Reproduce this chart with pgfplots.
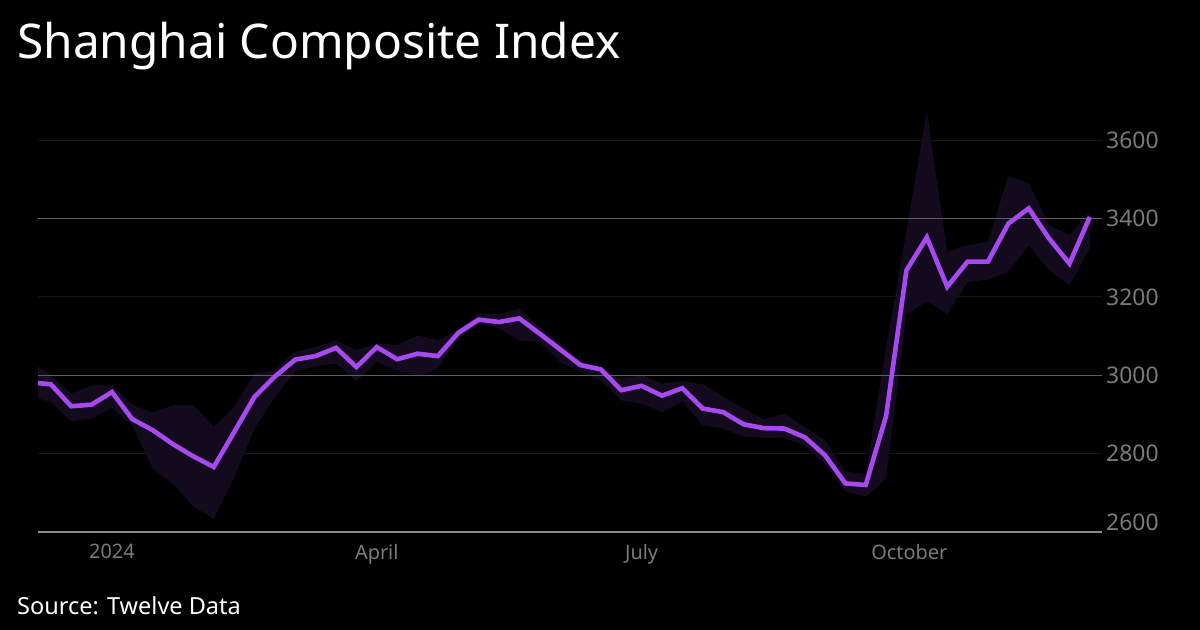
\documentclass[border=0pt]{standalone}
\usepackage{fontspec}
\setmainfont{Noto Sans}
\usepackage{pgfplots}
\pgfplotsset{compat=1.18}
\usepackage{pgfplotstable}
\definecolor{linec}{HTML}{A64AF0}
\definecolor{bandc}{HTML}{130A1D}
\definecolor{gridlight}{HTML}{5E5E5E}
\definecolor{griddark}{HTML}{151515}
\definecolor{axisc}{HTML}{8C8C8C}
\definecolor{tickc}{HTML}{7A7A7A}
\pgfplotstableread{
d y
-25.4 2980
-21 2977
-14 2921
-7 2925
0 2957
7 2888
14 2860
21 2824
28 2793
35 2766
42 2855
49 2945
56 2997
63 3040
70 3049
77 3070
84 3021
91 3072
98 3041
105 3055
112 3049
119 3108
126 3142
133 3136
140 3145
147 3106
154 3066
161 3026
168 3015
175 2962
182 2973
189 2948
196 2967
203 2915
210 2906
217 2875
224 2865
231 2864
238 2842
245 2796
252 2724
259 2720
266 2896
273 3268
280 3352
287 3226
294 3290
301 3290
308 3387
315 3426
322 3349
329 3285
336 3404
}\closetable
% band outline: weekly highs forward, then weekly lows backward
\pgfplotstableread{
d v
-25.4 3023
-21 3000
-14 2953
-7 2974
0 2974
7 2925
14 2905
21 2923
28 2923
35 2868
42 2919
49 3004
56 3013
63 3060
70 3072
77 3089
84 3064
91 3081
98 3077
105 3102
112 3089
119 3116
126 3158
133 3156
140 3170
147 3123
154 3081
161 3037
168 3021
175 2991
182 3000
189 2979
196 2985
203 2977
210 2945
217 2915
224 2887
231 2902
238 2868
245 2834
252 2755
259 2747
266 3070
273 3368
280 3673
287 3315
294 3332
301 3341
308 3508
315 3490
322 3383
329 3358
336 3417
336 3324
329 3230
322 3268
315 3332
308 3264
301 3244
294 3238
287 3157
280 3189
273 3155
266 2736
259 2690
252 2704
245 2774
238 2821
231 2841
224 2840
217 2844
210 2864
203 2872
196 2934
189 2906
182 2928
175 2936
168 2987
161 3009
154 3034
147 3085
140 3089
133 3119
126 3132
119 3095
112 3017
105 2997
98 3013
91 3034
84 2985
77 3030
70 3023
63 3009
56 2945
49 2864
42 2740
35 2634
28 2665
21 2723
14 2762
7 2872
0 2917
-7 2889
-14 2883
-21 2932
-25.4 2941
}\bandtable
\begin{document}
\begin{tikzpicture}
\fill[black] (0,0) rectangle (1200bp,630bp);
\path[use as bounding box] (0,0) rectangle (1200bp,630bp);
\node[anchor=base west, text=white, inner sep=0pt, font=\fontsize{48}{56}\selectfont] at (17bp,571bp) {Shanghai Composite Index};
\node[anchor=base west, text=white, inner sep=0pt, font=\fontsize{23.6}{28}\selectfont] at (17bp,16bp) {Source: Twelve Data};
\begin{axis}[
  at={(38bp,98bp)}, anchor=south west,
  scale only axis, width=1064bp, height=431bp,
  xmin=-25.4, xmax=340.2, ymin=2600, ymax=3700,
  clip mode=individual,
  axis x line*=bottom, axis y line*=right,
  x axis line style={draw=axisc, line width=1.2bp, -},
  y axis line style={draw=none},
  tick style={draw=none},
  xtick={0,91,182,274}, xticklabels={2024,April,July,October},
  ytick={2800,3000,3200,3400,3600},
  ymajorgrids, major grid style={draw=griddark, line width=1bp},
  /pgf/number format/assume math mode=true,
  /pgf/number format/1000 sep={},
  yticklabel style={text=tickc, font=\fontsize{23}{27}\selectfont, anchor=west, inner sep=2bp, xshift=2bp},
  xticklabel style={text=tickc, font=\fontsize{20}{24}\selectfont, yshift=-9bp},
]
\addplot[fill=bandc, draw=none, mark=none] table[x=d, y=v] {\bandtable} -- cycle;
\draw[gridlight, line width=1bp] (axis cs:-25.4,3000) -- (axis cs:340.2,3000);
\draw[gridlight, line width=1bp] (axis cs:-25.4,3400) -- (axis cs:340.2,3400);
\addplot[linec, line width=4.6bp, mark=none] table[x=d, y=y] {\closetable};
\node[text=tickc, font=\fontsize{23}{27}\selectfont, anchor=west, inner sep=2bp, xshift=2bp, yshift=10bp] at (axis cs:340.2,2600) {2600};
\end{axis}
\end{tikzpicture}
\end{document}
